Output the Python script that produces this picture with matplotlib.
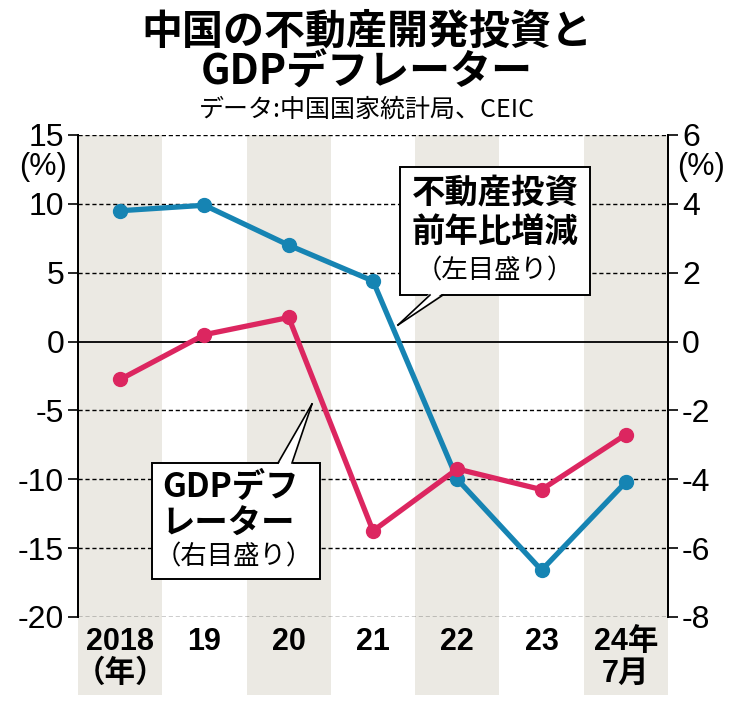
import matplotlib
matplotlib.use("Agg")
import matplotlib.pyplot as plt
from matplotlib.patches import Rectangle, Polygon
from matplotlib.lines import Line2D

plt.rcParams['font.family'] = ['Liberation Sans', 'Noto Sans CJK JP']
plt.rcParams['axes.unicode_minus'] = False

years = ['2018\n（年）', '19', '20', '21', '22', '23', '24年\n7月']
investment = [9.5, 9.9, 7.0, 4.4, -10.0, -16.6, -10.2]   # left axis
deflator = [-1.1, 0.2, 0.7, -5.5, -3.7, -4.3, -2.7]       # right axis
left_ticks = [15, 10, 5, 0, -5, -10, -15, -20]
right_ticks = [6, 4, 2, 0, -2, -4, -6, -8]

BLUE = '#1684b3'
PINK = '#dc2660'
BAND = '#ebe9e3'

W, H = 734, 702
fig = plt.figure(figsize=(W / 100, H / 100), dpi=100)
AX_L, AX_R, AX_T, AX_B = 78, 668, 135, 617
ax = fig.add_axes([AX_L / W, 1 - AX_B / H, (AX_R - AX_L) / W, (AX_B - AX_T) / H])
ax2 = ax.twinx()


def ax_xy(px, py):
    # pixel position in the figure -> axes fraction
    return (px - AX_L) / (AX_R - AX_L), 1 - (py - AX_T) / (AX_B - AX_T)


x = list(range(len(years)))
ax.set_xlim(-0.5, len(years) - 0.5)
ax.set_ylim(-20, 15)
ax2.set_ylim(-8, 6)

# alternating column bands, extended below the axis behind the labels
for i in range(0, len(years), 2):
    ax.axvspan(i - 0.5, i + 0.5, ymin=-0.162, ymax=1, color=BAND, lw=0,
               zorder=0, clip_on=False)

for t in left_ticks:
    if t != 0:
        ax.axhline(t, color='black', lw=1.0, ls=(0, (3, 2)), zorder=1)
ax.axhline(0, color='black', lw=1.3, zorder=1)

ax.plot(x, investment, color=BLUE, lw=3.8, marker='o', markersize=10, zorder=3,
        solid_joinstyle='round')
ax2.plot(x, deflator, color=PINK, lw=3.8, marker='o', markersize=10, zorder=3,
         solid_joinstyle='round')

for a in (ax, ax2):
    for s in ('top', 'bottom'):
        a.spines[s].set_visible(False)
    a.spines['left'].set_linewidth(1.4)
    a.spines['right'].set_linewidth(1.4)

ax.set_yticks(left_ticks)
ax.set_yticklabels([str(t) for t in left_ticks])
ax2.set_yticks(right_ticks)
ax2.set_yticklabels([str(t) for t in right_ticks])
ax.tick_params(axis='y', direction='out', length=7, width=1.2, labelsize=23, pad=3)
ax2.tick_params(axis='y', direction='out', length=7, width=1.2, labelsize=23, pad=3)

ax.set_xticks(x)
ax.set_xticklabels(years, fontsize=22, fontweight='bold', linespacing=1.1)
ax.tick_params(axis='x', length=0, pad=7)

ax.text(*ax_xy(43, 167), '(%)', transform=ax.transAxes, fontsize=22,
        ha='center', va='center')
ax.text(*ax_xy(701, 167), '(%)', transform=ax.transAxes, fontsize=22,
        ha='center', va='center')

# callout boxes
def callout(box, wedge, lines):
    l, t, r, b = box
    x0, y0 = ax_xy(l, b)
    x1, y1 = ax_xy(r, t)
    ax2.add_patch(Rectangle((x0, y0), x1 - x0, y1 - y0, transform=ax2.transAxes,
                            fc='white', ec='black', lw=1.4, zorder=6, clip_on=False))
    (bx0, bx1, by), (tx, ty) = wedge[:3], wedge[3]
    inset = 2 if by == b else -2
    pts = [ax_xy(bx0, by - inset), ax_xy(bx1, by - inset), ax_xy(tx, ty)]
    ax2.add_patch(Polygon(pts, closed=True, transform=ax2.transAxes, fc='white',
                          ec='none', zorder=7, clip_on=False))
    for p in (ax_xy(bx0, by), ax_xy(bx1, by)):
        ax2.add_line(Line2D([p[0], pts[2][0]], [p[1], pts[2][1]],
                            transform=ax2.transAxes, color='black', lw=1.2,
                            zorder=7, clip_on=False))
    for (px, py, s, size, weight, ha) in lines:
        ax2.text(*ax_xy(px, py), s, transform=ax2.transAxes, fontsize=size,
                 fontweight=weight, ha=ha, va='center', zorder=8,
                 family=['Noto Sans CJK JP'])


callout((400, 167, 590, 295), (430, 443, 295, (398, 325)),
        [(495, 194, '不動産投資', 24, 'bold', 'center'),
         (495, 232, '前年比増減', 24, 'bold', 'center'),
         (495, 271, '（左目盛り）', 19, 'normal', 'center')])
callout((152, 463, 320, 579), (278, 292, 463, (312, 404)),
        [(162, 488, 'GDPデフ', 24, 'bold', 'left'),
         (162, 524, 'レーター', 24, 'bold', 'left'),
         (155, 557, '（右目盛り）', 19, 'normal', 'left')])

fig.text(0.5, 1 - 32 / H, '中国の不動産開発投資と', ha='center', va='center',
         fontsize=29.5, fontweight='bold', family=['Noto Sans CJK JP'])
fig.text(0.5, 1 - 73 / H, 'GDPデフレーター', ha='center', va='center',
         fontsize=29.5, fontweight='bold', family=['Noto Sans CJK JP'])
fig.text(0.5, 1 - 110 / H, 'データ:中国国家統計局、CEIC', ha='center', va='center',
         fontsize=18, family=['Noto Sans CJK JP'])

fig.savefig('out.png', dpi=100)
